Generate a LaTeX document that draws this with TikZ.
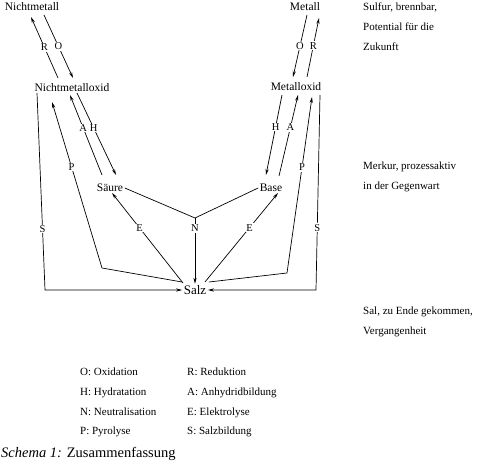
\documentclass[tikz,border=0pt]{standalone}
\usepackage{fontspec}
\setmainfont{Liberation Serif}
\usetikzlibrary{arrows.meta, positioning}

\begin{document}
\begin{tikzpicture}[
    x=1pt, y=-1pt,
    stoff/.style={inner sep=1.5pt, font=\fontsize{11.5}{13}\selectfont},
    lbl/.style={fill=white, inner sep=0.8pt, font=\fontsize{10.5}{12}\selectfont},
    note/.style={anchor=west, align=left, inner sep=0pt,
                 font=\fontsize{11}{19.7}\selectfont},
    legend/.style={anchor=north west, align=left, inner sep=0pt,
                   font=\fontsize{11}{19.7}\selectfont},
    ln/.style={line width=0.7pt},
    arr/.style={-{Stealth[length=6pt,width=3.2pt]}, line width=0.7pt}
]
  \useasboundingbox (0,0) rectangle (480,468);

  % Stoffe
  \node[stoff] (nm)     at (32,7)    {Nichtmetall};
  \node[stoff] (m)      at (305,7)   {Metall};
  \node[stoff] (nmox)   at (72,88)   {Nichtmetalloxid};
  \node[stoff] (mox)    at (296,87)  {Metalloxid};
  \node[stoff] (saeure) at (110,188) {Säure};
  \node[stoff] (base)   at (271,188) {Base};
  \node[stoff, font=\fontsize{13}{15}\selectfont] (salz) at (195,290) {Salz};
  \coordinate (nsplit) at (195,218);

  % Oxidation / Reduktion
  \draw[arr] ([shift={(-14,-10)}]nmox.center) -- node[lbl]{R} ([shift={(-1,10)}]nm.center);
  \draw[arr] ([shift={(12,8)}]nm.center) -- node[lbl]{O} ([shift={(1,-10)}]nmox.center);
  \draw[arr] ([shift={(2,8)}]m.center) -- node[lbl]{O} ([shift={(-3,-10)}]mox.center);
  \draw[arr] ([shift={(11,-10)}]mox.center) -- node[lbl, pos=0.53]{R} ([shift={(14,11)}]m.center);

  % Hydratation / Anhydridbildung
  \draw[arr] ([shift={(-8,-13)}]saeure.center) -- node[lbl, pos=0.59]{A} ([shift={(-2,7)}]nmox.center);
  \draw[arr] ([shift={(5,5)}]nmox.center) -- node[lbl, pos=0.43]{H} ([shift={(6,-13)}]saeure.center);
  \draw[arr] ([shift={(-14,8)}]mox.center) -- node[lbl, pos=0.4]{H} ([shift={(-5,-13)}]base.center);
  \draw[arr] ([shift={(8,-12)}]base.center) -- node[lbl, pos=0.6]{A} ([shift={(2,8)}]mox.center);

  % Pyrolyse
  \draw[arr] ([shift={(-13,-8)}]salz.center) -- (102,268)
    -- node[lbl, pos=0.61]{P} ([shift={(-20,14)}]nmox.center);
  \draw[arr] ([shift={(14,-8)}]salz.center) -- (287,273)
    -- node[lbl, pos=0.6]{P} ([shift={(16,10)}]mox.center);

  % Salzbildung
  \draw[arr] ([shift={(-35,5)}]nmox.center) -- node[lbl, pos=0.69]{S} (45,290) -- (salz.west);
  \draw[arr] ([shift={(24,8)}]mox.center) -- node[lbl, pos=0.68]{S} (316,290) -- (salz.east);

  % Neutralisation
  \draw[ln] (saeure.east) -- (nsplit) -- (base.west);
  \draw[arr] (nsplit) -- node[lbl, pos=0.16]{N} (salz.north);

  % Elektrolyse
  \draw[arr] ([shift={(-12,-7)}]salz.center) -- node[lbl, pos=0.61]{E} ([shift={(2,5)}]saeure.center);
  \draw[arr] ([shift={(10,-8)}]salz.center) -- node[lbl, pos=0.61]{E} ([shift={(7,5)}]base.center);

  % Prinzipien
  \node[note] (sulfur) at (363,26.5) {Sulfur, brennbar,\\Potential für die\\Zukunft};
  \node[note] (merkur) at (363,177)  {Merkur, prozessaktiv\\in der Gegenwart};
  \node[note] (sal)    at (363,322)  {Sal, zu Ende gekommen,\\Vergangenheit};

  % Legende
  \node[legend] (legL) at (80,368)  {O: Oxidation\\H: Hydratation\\N: Neutralisation\\P: Pyrolyse};
  \node[legend] (legR) at (187,368) {R: Reduktion\\A: Anhydridbildung\\E: Elektrolyse\\S: Salzbildung};

  \node[anchor=west, inner sep=0pt, font=\fontsize{14.5}{16}\selectfont] (caption)
    at (1,454) {\textit{Schema 1:} Zusammenfassung};
\end{tikzpicture}
\end{document}
